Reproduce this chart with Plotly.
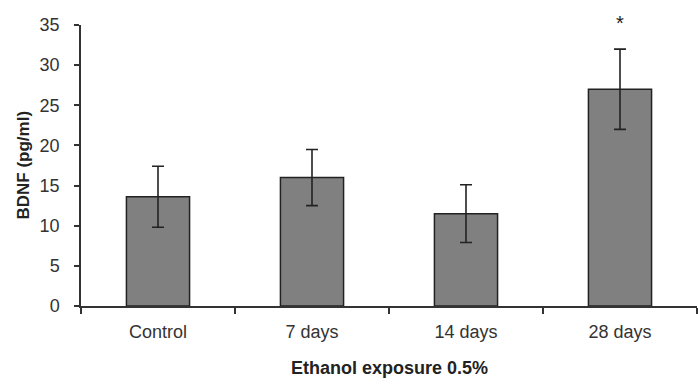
import plotly.graph_objects as go

categories = ["Control", "7 days", "14 days", "28 days"]
bdnf_mean = [13.6, 16.0, 11.5, 27.0]
bdnf_err = [3.8, 3.5, 3.6, 5.0]
y_ticks = [0, 5, 10, 15, 20, 25, 30, 35]
significance = ["", "", "", "*"]

font_family = "Liberation Sans, Arial, sans-serif"

fig = go.Figure()
fig.add_trace(go.Bar(
    x=categories,
    y=bdnf_mean,
    width=0.41,
    marker=dict(color="#808080", line=dict(color="#222222", width=1.5)),
    error_y=dict(type="data", array=bdnf_err, visible=True,
                 color="#222222", thickness=1.6, width=6),
    showlegend=False,
))

for cat, m, e, s in zip(categories, bdnf_mean, bdnf_err, significance):
    if s:
        fig.add_annotation(x=cat, y=m + e, text=s, showarrow=False,
                           yanchor="bottom", yshift=13,
                           font=dict(family=font_family, size=20, color="#222222"))

fig.add_annotation(xref="paper", yref="paper", x=0.5, y=0, text="<b>Ethanol exposure 0.5%</b>",
                   showarrow=False, yanchor="middle", yshift=-62,
                   font=dict(family=font_family, size=18, color="#222222"))
fig.add_annotation(xref="paper", yref="paper", x=0, y=0.5, text="<b>BDNF (pg/ml)</b>",
                   showarrow=False, textangle=-90, xanchor="center", xshift=-58,
                   font=dict(family=font_family, size=17, color="#222222"))

fig.update_layout(
    width=698, height=384,
    margin=dict(l=81, r=1, t=25, b=78),
    paper_bgcolor="white", plot_bgcolor="white",
    font=dict(family=font_family, size=18, color="#333333"),
    bargap=0.59,
)
fig.update_xaxes(
    type="category", range=[-0.5, 3.5],
    showline=True, linecolor="#333333", linewidth=1.5,
    ticks="outside", tickson="boundaries", ticklen=6, tickcolor="#333333", tickwidth=1.5,
    showgrid=False, ticklabelstandoff=9,
    tickfont=dict(family=font_family, size=18, color="#333333"),
)
fig.update_yaxes(
    range=[0, 35], tickvals=y_ticks,
    showline=True, linecolor="#333333", linewidth=1.5,
    ticks="outside", ticklen=5, tickcolor="#333333", tickwidth=1.5,
    showgrid=False, zeroline=False, ticklabelstandoff=11,
    tickfont=dict(family=font_family, size=18, color="#333333"),
)

fig.write_html("out.html")
